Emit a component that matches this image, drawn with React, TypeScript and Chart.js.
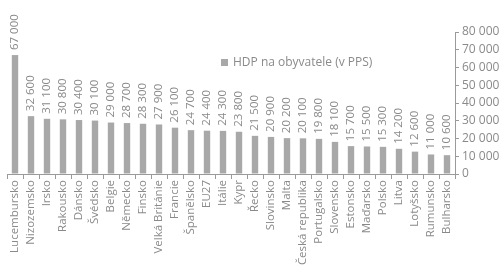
import React, { useEffect, useRef } from "react";
import { Chart, registerables } from "chart.js";

Chart.register(...registerables);

const categories = [
  "Lucembursko", "Nizozemsko", "Irsko", "Rakousko", "Dánsko", "Švédsko", "Belgie",
  "Německo", "Finsko", "Velká Británie", "Francie", "Španělsko", "EU27", "Itálie",
  "Kypr", "Řecko", "Slovinsko", "Malta", "Česká republika", "Portugalsko", "Slovensko",
  "Estonsko", "Maďarsko", "Polsko", "Litva", "Lotyšsko", "Rumunsko", "Bulharsko",
];
const values = [
  67000, 32600, 31100, 30800, 30400, 30100, 29000, 28700, 28300, 27900, 26100, 24700,
  24400, 24300, 23800, 21500, 20900, 20200, 20100, 19800, 18100, 15700, 15500, 15300,
  14200, 12600, 11000, 10600,
];
const seriesLabel = "HDP na obyvatele (v PPS)";
const yMin = 0;
const yMax = 80000;
const yStep = 10000;

const fmt = (v: number) => String(v).replace(/\B(?=(\d{3})+(?!\d))/g, " ");

const FONT = "'Open Sans', sans-serif";
const TEXT = "#8a8a8a";
const AXIS = "#9a9a9a";
const BAR = "#a8a8a8";

const labelPlugin = {
  id: "valueLabels",
  afterDatasetsDraw(chart: any) {
    const ctx = chart.ctx;
    const meta = chart.getDatasetMeta(0);
    ctx.save();
    ctx.fillStyle = TEXT;
    ctx.font = `11.5px ${FONT}`;
    ctx.textAlign = "left";
    ctx.textBaseline = "middle";
    meta.data.forEach((el: any, i: number) => {
      ctx.save();
      ctx.translate(el.x, el.y - 5);
      ctx.rotate(-Math.PI / 2);
      ctx.fillText(fmt(values[i]), 0, 0);
      ctx.restore();
    });
    // legend
    ctx.fillStyle = BAR;
    ctx.fillRect(221, 59, 7, 7);
    ctx.fillStyle = TEXT;
    ctx.font = `12px ${FONT}`;
    ctx.textBaseline = "middle";
    ctx.fillText(seriesLabel, 233, 62.5);
    ctx.restore();
  },
};

export default function App() {
  const ref = useRef<HTMLCanvasElement | null>(null);
  useEffect(() => {
    document.body.style.margin = "0";
    const chart = new Chart(ref.current as HTMLCanvasElement, {
      type: "bar",
      data: {
        labels: categories,
        datasets: [
          {
            label: seriesLabel,
            data: values,
            backgroundColor: BAR,
            barPercentage: 0.4,
            categoryPercentage: 1,
          },
        ],
      },
      options: {
        animation: false,
        responsive: false,
        layout: { padding: { top: 32, left: 7, right: 0, bottom: 0 } },
        plugins: { legend: { display: false }, tooltip: { enabled: false } },
        scales: {
          x: {
            grid: {
              offset: true,
              drawOnChartArea: false,
              drawTicks: true,
              tickLength: 5,
              color: AXIS,
            },
            border: { display: true, color: AXIS },
            ticks: {
              autoSkip: false,
              minRotation: 90,
              maxRotation: 90,
              color: TEXT,
              font: { family: FONT, size: 11.5 },
              padding: 1,
            },
            afterFit: (s: any) => {
              s.height = 92;
            },
          },
          y: {
            position: "right",
            min: yMin,
            max: yMax,
            grid: { drawOnChartArea: false, tickLength: 4, color: AXIS },
            border: { display: true, color: AXIS },
            ticks: {
              stepSize: yStep,
              color: TEXT,
              font: { family: FONT, size: 12 },
              padding: 3,
              callback: (v: any) => fmt(Number(v)),
            },
            afterFit: (s: any) => {
              s.width = 46;
            },
          },
        },
      },
      plugins: [labelPlugin],
    });
    return () => chart.destroy();
  }, []);
  return (
    <div style={{ width: 501, height: 266 }}>
      <canvas ref={ref} width={501} height={266} style={{ display: "block" }} />
    </div>
  );
}
